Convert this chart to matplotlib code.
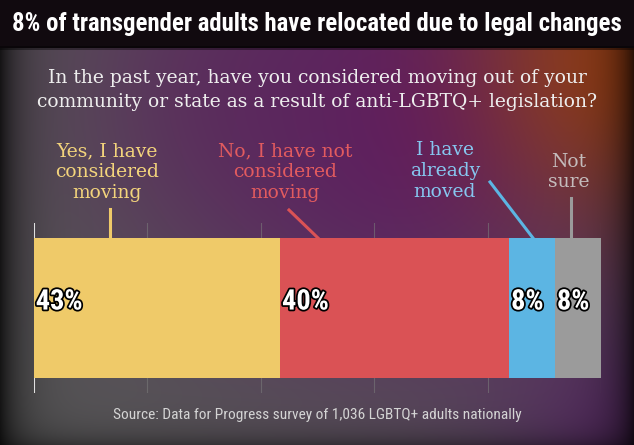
import numpy as np
import matplotlib
matplotlib.use("Agg")
import matplotlib.pyplot as plt
import matplotlib.patheffects as pe
from matplotlib import font_manager

# data
answers = ["Yes, I have\nconsidered\nmoving", "No, I have not\nconsidered\nmoving",
           "I have\nalready\nmoved", "Not\nsure"]
shares = [43, 40, 8, 8]
pct_labels = ["43%", "40%", "8%", "8%"]

title = "8% of transgender adults have relocated due to legal changes"
question = ("In the past year, have you considered moving out of your\n"
            "community or state as a result of anti-LGBTQ+ legislation?")
source = "Source: Data for Progress survey of 1,036 LGBTQ+ adults nationally"

bar_colors = ["#efca69", "#da5255", "#5cb5e3", "#9b9b9b"]
text_colors = ["#f3d47c", "#e25b5f", "#86c6ef", "#c4bcbc"]

W, H = 634, 445
fig = plt.figure(figsize=(W / 100, H / 100), dpi=100)

# background gradient
bg = fig.add_axes([0, 0, 1, 1])
yy, xx = np.mgrid[0:H, 0:W].astype(float)
img = np.zeros((H, W, 3))
img[:] = (0.34, 0.34, 0.34)

def blob(cx, cy, r, col, strength=1.0):
    w = strength * np.exp(-((xx - cx) ** 2 + (yy - cy) ** 2) / (2 * r ** 2))
    return w[..., None], np.array(col)

for cx, cy, r, col, s in [(420, 110, 170, (0.36, 0.10, 0.40), 1.0),
                          (250, 90, 120, (0.36, 0.14, 0.36), 0.6),
                          (640, 60, 120, (0.58, 0.24, 0.08), 1.0),
                          (640, 440, 110, (0.33, 0.15, 0.38), 0.9)]:
    w, c = blob(cx, cy, r, col, s)
    img = img * (1 - w) + c * w

vig = (1 - 0.75 * np.exp(-xx / 22)) * (1 - 0.75 * np.exp(-(W - xx) / 22))
vig *= (1 - 0.4 * np.exp(-(H - yy) / 15))
img *= vig[..., None]
img[yy < 48] = np.array([0.07, 0.04, 0.06])[None, :]
img[(yy >= 46) & (yy < 50)] *= 0.6
bg.imshow(np.clip(img, 0, 1), extent=[0, W, H, 0], aspect="auto")
bg.set_xlim(0, W)
bg.set_ylim(H, 0)
bg.axis("off")

def fx(px):
    return px / W

def fy(py):
    return 1 - py / H

installed = {f.name for f in font_manager.fontManager.ttflist}
narrow = "Roboto"
for cand in ["Roboto Condensed", "DejaVu Sans Condensed", "Liberation Sans Narrow",
             "Open Sans Condensed"]:
    if cand in installed:
        narrow = cand
        break
slab = "DejaVu Serif"

renderer = fig.canvas.get_renderer()

def fit(t, width_px):
    w = t.get_window_extent(renderer).width
    t.set_fontsize(t.get_fontsize() * width_px / w)

t = fig.text(fx(317), fy(24), title, ha="center", va="center", color="white",
             fontsize=20, fontweight="bold", family=narrow)
fit(t, 608)
fig.text(fx(317), fy(90), question, ha="center", va="center", color="#eeeeee",
         fontsize=13.5, family=slab, linespacing=1.4)
t = fig.text(fx(317), fy(415), source, ha="center", va="center", color="#d4d4d4",
             fontsize=10.5, family=narrow)
fit(t, 410)

# bar axes: spans grid area 34..601 px, 223..393 px
ax = fig.add_axes([fx(34), fy(393), (601 - 34) / W, (393 - 223) / H])
ax.set_xlim(0, sum(shares))
ax.set_ylim(0, 1)
ax.axis("off")
ax.patch.set_alpha(0)

for gx in np.linspace(0, sum(shares), 6)[1:]:
    ax.axvline(gx, color="#7a7a7a", lw=0.8, alpha=0.6, zorder=0)
ax.axvline(0, color="#e0e0e0", lw=1.5, zorder=0)

lefts = np.cumsum([0] + shares[:-1])
ax.barh(0.5, shares, left=lefts, height=0.824, color=bar_colors, zorder=2)

for l, lab in zip(lefts, pct_labels):
    t = ax.text(l + 0.3, 0.535, lab, ha="left", va="center", color="white",
                fontsize=18, fontweight="bold", family=narrow, zorder=3,
                path_effects=[pe.withStroke(linewidth=2.5, foreground="black")])
    if lab == "43%":
        fit(t, 47)
        pct_size = t.get_fontsize()
    else:
        t.set_fontsize(pct_size)

# category labels with leader lines (pixel layout)
label_xy = [(107, 172), (285, 172), (445, 171), (569, 172)]
line_from = [(110, 209), (289, 210), (490, 182), (571, 198)]
line_to = [(110, 238), (318, 238), (533, 238), (571, 238)]

def to_data(px, py):
    return ((px - 34) / (601 - 34) * sum(shares), (393 - py) / (393 - 223))

for i, txt in enumerate(answers):
    lx, ly = label_xy[i]
    fig.text(fx(lx), fy(ly), txt, ha="center", va="center", color=text_colors[i],
             fontsize=13.5, family=slab, linespacing=1.2)
    (x0, y0), (x1, y1) = to_data(*line_from[i]), to_data(*line_to[i])
    ax.plot([x0, x1], [y0, y1], color=bar_colors[i], lw=2.2, clip_on=False, zorder=1)

fig.savefig("out.png", dpi=100)
